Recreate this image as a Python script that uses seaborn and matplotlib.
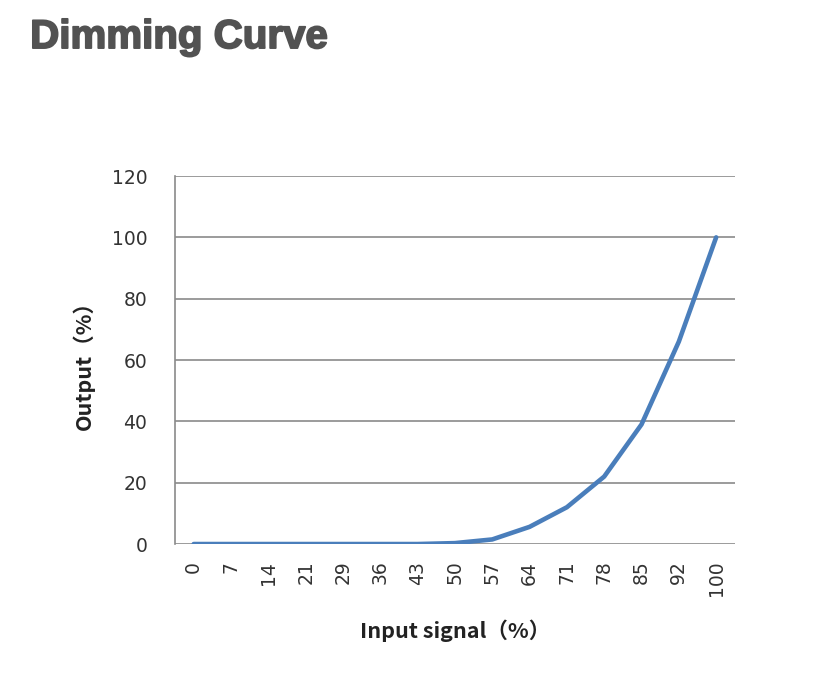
import matplotlib
matplotlib.use("Agg")
import matplotlib.pyplot as plt
import matplotlib.patheffects as pe
import seaborn as sns
import pandas as pd

# values
input_signal = ["0", "7", "14", "21", "29", "36", "43", "50", "57", "64", "71", "78", "85", "92", "100"]
output_pct = [0, 0, 0, 0, 0, 0, 0, 0.3, 1.5, 5.6, 12, 22, 39, 66, 100]
y_ticks = [0, 20, 40, 60, 80, 100, 120]

df = pd.DataFrame({"input": input_signal, "output": output_pct})

sns.set_style("white")
plt.rcParams['font.family'] = ['DejaVu Sans']

fig = plt.figure(figsize=(8.16, 6.77), dpi=100)
ax = fig.add_axes([0.2145, 0.1964, 0.686, 0.5436])

sns.lineplot(data=df, x="input", y="output", ax=ax, color="#4a7ebb", linewidth=3.3, sort=False)

ax.set_xlim(-0.5, len(input_signal) - 0.5)
ax.set_ylim(0, 120)
ax.set_yticks(y_ticks)
ax.yaxis.grid(True, color="#8a8a8a", linewidth=1.2)
ax.set_axisbelow(True)

for s in ["top", "right", "bottom"]:
    ax.spines[s].set_visible(False)
ax.spines["left"].set_color("#8a8a8a")
ax.spines["left"].set_linewidth(1.2)

ax.tick_params(axis="y", length=7, width=1.2, color="#8a8a8a", pad=13, labelsize=13.5, labelcolor="#333333")
ax.tick_params(axis="x", length=0, pad=12, labelsize=13.5, labelcolor="#333333", labelrotation=90)

cjk = ['Noto Sans CJK SC', 'DejaVu Sans']
ax.set_xlabel("Input signal（%）", family=cjk, fontsize=15.5, fontweight="bold", color="#222222", labelpad=17)
ax.set_ylabel("Output（%）", family=cjk, fontsize=15.5, fontweight="bold", color="#222222", labelpad=12)

fig.text(0.037, 0.929, "Dimming Curve", fontsize=29, fontweight="bold",
         family=["Liberation Sans", "DejaVu Sans"], color="#525252", va="baseline",
         path_effects=[pe.withStroke(linewidth=1.3, foreground="#525252")])

plt.savefig("out.png", dpi=100)
plt.close()
